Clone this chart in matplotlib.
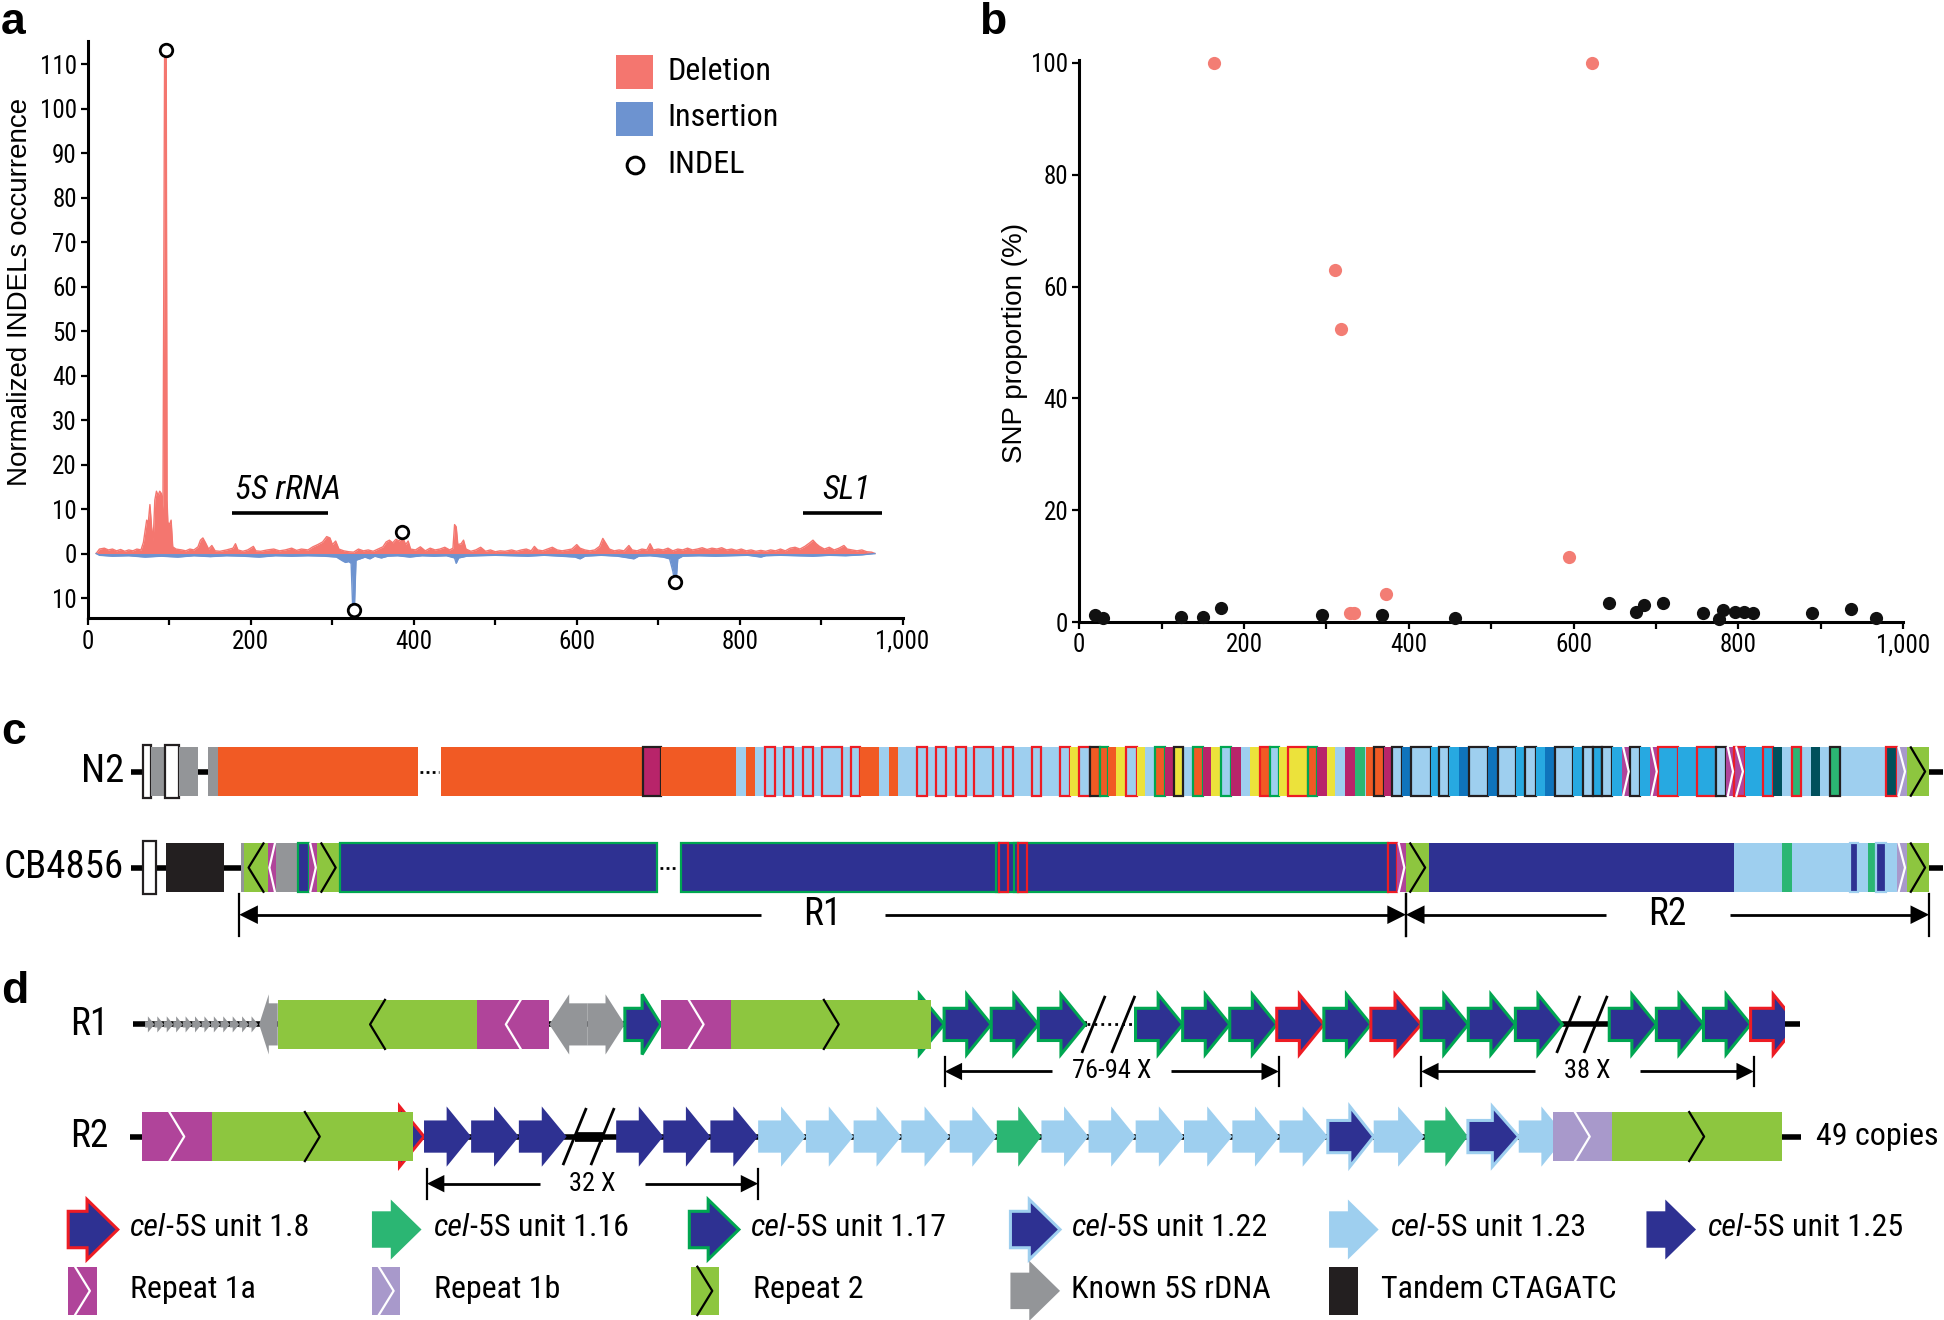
import matplotlib
matplotlib.use('Agg')
import matplotlib.pyplot as plt
from matplotlib import font_manager
from matplotlib.patches import Polygon, Rectangle


def pick_narrow():
    # the reference uses an Arial Narrow look; take a condensed face if one is installed
    names = {f.name for f in font_manager.fontManager.ttflist}
    for n in ('Liberation Sans Narrow', 'Arial Narrow', 'Roboto Condensed', 'Open Sans Condensed',
              'Noto Sans Condensed'):
        if n in names:
            return n, 'normal', 1.0
    for fam in ('Noto Sans', 'Open Sans', 'Roboto'):
        for f in font_manager.fontManager.ttflist:
            if f.name == fam and f.stretch == 'condensed':
                return fam, 'condensed', 1.0
    return 'Liberation Sans', 'normal', 0.86


NARROW, STRETCH, K = pick_narrow()
REGULAR = 'Liberation Sans'
plt.rcParams['font.family'] = NARROW
plt.rcParams['font.stretch'] = STRETCH

# ---------------- panel a: INDEL profile ----------------
del_pos = [10, 14, 20, 25, 30, 35, 40, 45, 50, 55, 60, 65, 68, 70, 72, 74, 76, 78, 80, 82, 84, 86, 88, 90, 92,
           94, 96, 97, 98, 100, 102, 104, 108, 115, 120, 125, 130, 135, 138, 141, 144, 148, 152, 156, 162, 170,
           178, 181, 184, 190, 196, 203, 206, 212, 220, 228, 235, 242, 250, 256, 262, 270, 276, 282, 288, 293,
           297, 300, 304, 308, 314, 320, 326, 332, 338, 344, 350, 356, 362, 366, 370, 374, 378, 382, 386, 390,
           393, 396, 402, 408, 414, 420, 426, 432, 438, 444, 448, 450, 452, 454, 458, 461, 464, 470, 476, 482,
           488, 494, 500, 506, 512, 520, 526, 532, 538, 544, 548, 552, 558, 564, 570, 576, 582, 588, 594, 600,
           604, 610, 616, 622, 628, 632, 636, 640, 646, 652, 658, 664, 668, 674, 680, 686, 690, 694, 700, 706,
           712, 718, 724, 730, 736, 742, 748, 754, 760, 766, 772, 778, 784, 790, 796, 802, 808, 814, 820, 826,
           832, 838, 844, 850, 856, 862, 868, 874, 880, 886, 890, 894, 898, 904, 910, 916, 922, 928, 932, 938,
           944, 950, 956, 962, 966]
del_val = [0, 1.0, 1.2, 0.8, 1.0, 0.6, 0.9, 0.5, 0.8, 0.6, 1.0, 0.8, 2.5, 5, 7.5, 7, 11, 6, 3, 12, 14, 13, 14, 13.5, 10,
           112, 112, 12, 7, 6.5, 7.5, 1.5, 1, 0.8, 0.6, 1, 0.8, 1.5, 3, 3.5, 2.5, 1, 1.8, 0.6, 0.5, 0.8,
           1.2, 2.2, 0.8, 0.5, 0.8, 1.6, 0.6, 0.5, 0.8, 1.0, 0.6, 0.8, 1.2, 0.7, 1.0, 0.8, 1.5, 2.0, 2.6, 3.8,
           3.5, 2.0, 2.8, 1.0, 0.6, 0.4, 0.3, 1.0, 0.6, 0.8, 0.5, 1.0, 1.5, 2.6, 3.0, 2.4, 3.2, 2.8, 3.8, 2.0,
           2.8, 1.0, 0.8, 1.5, 0.6, 1.2, 0.8, 1.0, 1.4, 0.8, 1.2, 6.5, 6, 2, 2.2, 3.0, 1.0, 0.5, 0.8, 1.4,
           0.5, 0.8, 0.4, 0.6, 0.5, 0.8, 0.5, 0.8, 1.0, 0.6, 1.6, 0.8, 0.6, 1.0, 1.4, 0.8, 0.6, 0.8, 1.0, 2.0,
           1.2, 0.8, 0.6, 0.8, 1.6, 3.4, 2.2, 1.0, 0.6, 0.8, 0.6, 1.8, 0.8, 0.6, 1.0, 0.8, 2.2, 0.8, 1.0, 0.8,
           1.2, 0.6, 1.0, 0.8, 1.2, 0.8, 1.0, 1.3, 0.9, 1.2, 1.0, 1.3, 0.8, 1.0, 0.7, 1.0, 0.6, 0.8, 0.5, 0.7,
           0.5, 0.8, 0.6, 1.0, 0.6, 1.2, 1.4, 1.0, 1.6, 2.4, 3.0, 2.2, 1.6, 1.0, 1.4, 0.8, 1.2, 1.8, 1.0, 0.8,
           0.6, 0.8, 0.4, 0.3, 0]
ins_pos = [10, 14, 30, 50, 70, 90, 110, 130, 150, 170, 190, 210, 230, 250, 270, 290, 305, 312, 316, 320, 323,
           325, 327, 329, 334, 340, 346, 352, 360, 368, 380, 395, 410, 425, 440, 450, 452, 455, 465, 480, 500,
           520, 540, 560, 580, 598, 604, 610, 630, 650, 664, 670, 676, 690, 706, 714, 718, 720, 722, 724, 730,
           750, 770, 790, 810, 826, 832, 850, 870, 890, 910, 930, 950, 966]
ins_val = [0, -0.4, -0.6, -0.5, -0.8, -0.6, -0.8, -0.5, -0.7, -0.5, -0.6, -0.8, -0.5, -0.6, -0.5, -0.6, -0.8,
           -1.6, -2.0, -1.8, -2.2, -12.5, -12.5, -1.5, -1.2, -0.8, -1.2, -0.6, -1.0, -0.6, -0.5, -0.8, -0.5,
           -0.6, -0.5, -1.0, -2.2, -1.0, -0.6, -0.5, -0.4, -0.5, -0.6, -0.4, -0.6, -0.8, -1.2, -0.6, -0.4, -0.6,
           -1.0, -1.2, -0.6, -0.5, -0.8, -1.2, -4, -6.2, -6.2, -1.2, -0.6, -0.5, -0.6, -0.5, -0.4, -0.8, -0.5,
           -0.4, -0.5, -0.6, -0.4, -0.5, -0.3, 0]
indel_pos = [96, 327, 385, 721]
indel_val = [113.2, -12.7, 4.8, -6.5]
feature_names = ['5S rRNA', 'SL1']
feature_start = [177, 878]
feature_end = [294, 975]

# ---------------- panel b: SNP proportion ----------------
snp_hi_pos = [163, 622, 310, 318, 594, 372, 329, 334]
snp_hi_val = [100, 100, 63, 52.4, 11.6, 5.1, 1.7, 1.7]
snp_lo_pos = [19, 29, 124, 150, 172, 295, 368, 456, 643, 676, 685, 709, 757, 777, 782, 796, 807, 818, 890, 937, 967]
snp_lo_val = [1.2, 0.7, 1.0, 1.0, 2.6, 1.2, 1.35, 0.7, 3.5, 1.9, 3.0, 3.5, 1.6, 0.5, 2.1, 1.8, 1.8, 1.7, 1.6, 2.3, 0.8]

# ---------------- panel c: locus maps (start, end, element, outline) ----------------
n2_units = [
    (115, 122, 'wh', 'k'), (122, 133, 'gy', ''), (133, 144, 'wh', 'k'), (144, 160, 'gy', ''), (168, 175.5, 'gy', ''),
    (175.5, 337, 'or', ''), (356, 519, 'or', ''), (519, 533, 'cr', 'k'), (533, 594, 'or', ''),
    (594, 1530, 'lb', ''),
    (602, 609, 'or', ''), (617, 625, 'lb', 'r'), (632, 640, 'lb', 'r'), (648, 656, 'lb', 'r'), (663, 679, 'lb', 'r'),
    (686, 694, 'lb', 'r'), (694, 709, 'or', ''), (717, 724, 'or', ''),
    (740, 748, 'lb', 'r'), (755, 763, 'lb', 'r'), (771, 779, 'lb', 'r'), (786, 801, 'lb', 'r'), (809, 817, 'lb', 'r'),
    (832, 840, 'lb', 'r'), (855, 863, 'lb', 'r'), (863, 870.5, 'ye', ''), (870.5, 879, 'lb', 'r'),
    (879, 887, 'or', 'k'), (887, 894, 'or', 'g'), (894, 900, 'or', ''), (900, 908.6, 'ye', ''),
    (908.6, 916.7, 'lb', 'r'), (916.7, 923.4, 'ye', ''), (931.5, 939.5, 'or', 'g'), (939.5, 946.8, 'cr', ''),
    (946.8, 954.3, 'ye', 'k'), (962, 970, 'or', 'g'), (970, 977, 'cr', ''), (977, 985, 'ye', ''),
    (985, 993, 'lb', 'g'), (993, 1001, 'cr', ''), (1008, 1016, 'ye', ''), (1016, 1024, 'or', 'r'),
    (1024, 1032, 'lb', 'g'), (1032, 1039, 'ye', ''), (1039, 1055, 'ye', 'r'), (1055, 1062, 'or', 'g'),
    (1062, 1070, 'cr', ''), (1070, 1077, 'ye', ''), (1085, 1093, 'cr', ''), (1093, 1101, 'gn', ''),
    (1102, 1108, 'or', ''), (1108, 1116, 'or', 'k'), (1116, 1123, 'cr', ''),
    (1123, 1131, 'lb', 'k'), (1131, 1138, 'mb', ''), (1138, 1154.5, 'lb', 'k'), (1154.5, 1161, 'cy', ''),
    (1161, 1169, 'lb', 'k'), (1169, 1177, 'cy', ''), (1177, 1185, 'mb', ''), (1185, 1200, 'lb', 'k'),
    (1200, 1208, 'mb', ''), (1208, 1223, 'lb', 'k'), (1223, 1230, 'cy', ''), (1230, 1239, 'lb', 'k'),
    (1239, 1246, 'cy', ''), (1246, 1254, 'mb', ''), (1254, 1269, 'lb', 'k'), (1269, 1277, 'cy', ''),
    (1277, 1285, 'lb', 'k'), (1285, 1292, 'cy', 'k'), (1292, 1300, 'lb', 'k'), (1300, 1308, 'cy', ''),
    (1308, 1315, 'r1a', ''), (1315, 1323, 'lb', 'k'), (1323, 1331, 'cy', ''), (1331, 1337.5, 'r1a', ''),
    (1337.5, 1353.5, 'cy', 'r'), (1353.5, 1369, 'cy', ''), (1369, 1384.5, 'cy', 'r'), (1384.5, 1392.5, 'lb', 'k'),
    (1392.5, 1399, 'r1a', ''), (1399, 1407.3, 'r1a', 'r'), (1407.3, 1422, 'cy', ''), (1422, 1430, 'cy', 'r'),
    (1430, 1437.7, 'tl', ''), (1445.5, 1453, 'gn', 'r'), (1461, 1468.3, 'tl', ''), (1476, 1484, 'gn', 'k'),
    (1521.5, 1530, 'tl', 'r'), (1530, 1538, 'r1b', ''), (1538, 1556, 'r2', ''),
]
cb_units = [
    (115, 126, 'wh', 'k'), (134, 181, 'tc', ''), (194, 197, 'gy', ''), (197, 216, 'r2<', ''), (216, 223, 'r1a<', ''),
    (223, 240, 'gy', ''), (240, 249, 'db', 'g'), (249, 256, 'r1a', ''), (256, 274, 'r2', ''),
    (274, 530, 'db', 'g'), (549, 1119.6, 'db', 'g'),
    (803, 806, 'db', 'g'), (806, 813, 'db', 'r'), (818, 821, 'db', 'g'), (821, 828.5, 'db', 'r'),
    (1119.6, 1127, 'db', 'r'), (1127, 1134, 'r1a', ''), (1134, 1153, 'r2', ''), (1153, 1399, 'db', ''),
    (1399, 1530, 'lb', ''), (1437.7, 1445.5, 'gn', ''), (1492, 1499, 'db', 'l'), (1507, 1513, 'gn', ''),
    (1513.5, 1521.5, 'db', 'l'), (1530, 1538, 'r1b', ''), (1538, 1556, 'r2', ''),
]
n2_gap = (337, 356)
cb_gap = (530, 549)
c_spans = [(193, 1134, 'R1'), (1134, 1556, 'R2')]

# ---------------- panel d: repeat structure ----------------
r1_tandem = [117, 124.6, 132.2, 139.8, 147.4, 155, 162.6, 170.2, 177.8, 185.4, 193, 200.6]
r1_boxes = [(224, 385, 'r2<'), (385, 443, 'r1a<'), (533, 590, 'r1a'), (590, 751, 'r2')]
r1_arrows = [
    (224, 209, 'gy', ''), (474, 443, 'gy', ''), (474, 504, 'gy', ''), (504, 533, 'db', 'g'),
    (723, 761.5, 'db', 'g'), (761.5, 799.5, 'db', 'g'), (799.5, 837.5, 'db', 'g'), (837.5, 875.5, 'db', 'g'),
    (915.9, 953.9, 'db', 'g'), (953.9, 991.9, 'db', 'g'), (991.9, 1029.8, 'db', 'g'), (1029.8, 1067.8, 'db', 'r'),
    (1067.8, 1105.7, 'db', 'g'), (1105.7, 1146.3, 'db', 'r'), (1146.3, 1184.3, 'db', 'g'), (1184.3, 1222.3, 'db', 'g'),
    (1222.3, 1260.2, 'db', 'g'), (1298, 1336, 'db', 'g'), (1336, 1374, 'db', 'g'), (1374, 1412, 'db', 'g'),
    (1412, 1450, 'db', 'r'),
]
r1_end = 1440
r1_breaks = [(882, 906, 'dotted'), (1265, 1287, 'solid')]
r2_boxes = [(114.4, 170.8, 'r1a'), (170.8, 333, 'r2'), (1252.5, 1300, 'r1b'), (1300, 1437, 'r2')]
r2_arrows = [
    (304, 342, 'db', 'r'), (342, 380, 'db', ''), (380, 418.5, 'db', ''), (418.5, 457, 'db', ''),
    (497, 535, 'db', ''), (535, 573, 'db', ''), (573, 611.5, 'db', ''),
    (611.5, 650, 'lb', ''), (650, 688.5, 'lb', ''), (688.5, 727, 'lb', ''), (727, 766, 'lb', ''), (766, 804, 'lb', ''),
    (804, 840, 'gn', ''), (840, 878, 'lb', ''), (878, 916, 'lb', ''), (916, 955, 'lb', ''), (955, 994, 'lb', ''),
    (994, 1032, 'lb', ''), (1032, 1071, 'lb', ''), (1071, 1108, 'db', 'l'), (1108, 1149, 'lb', ''),
    (1149, 1184, 'gn', ''), (1184, 1225, 'db', 'l'), (1225, 1263, 'lb', ''),
]
r2_breaks = [(463.5, 486, 'thick')]
d_spans = [(762, 1031.5, 826.5, '76-94 X'), (1146.3, 1414.6, 826.5, '38 X'), (344.4, 611.5, 917, '32 X')]
copies_label = '49 copies'

legend_arrow_kinds = [('db', 'r'), ('gn', ''), ('db', 'g'), ('db', 'l'), ('lb', ''), ('db', '')]
legend_arrow_names = ['1.8', '1.16', '1.17', '1.22', '1.23', '1.25']
legend_box_kinds = ['r1a', 'r1b', 'r2', 'gy', 'tc']
legend_box_names = ['Repeat 1a', 'Repeat 1b', 'Repeat 2', 'Known 5S rDNA', 'Tandem CTAGATC']

FILL = {'wh': 'white', 'gy': '#939598', 'or': '#f15a24', 'cr': '#b8246a', 'lb': '#9ecfef', 'ye': '#ece23b',
        'gn': '#2bb673', 'cy': '#27a9e1', 'mb': '#0f74bc', 'tl': '#00505c', 'db': '#2e3192',
        'r1a': '#b0449a', 'r1b': '#a899cb', 'r2': '#8dc63f', 'tc': '#231f20'}
EDGE = {'r': '#ed1c24', 'g': '#00a651', 'k': '#231f20', 'l': '#9ecfef'}
DEL_C = '#f4766f'
INS_C = '#6d93d0'
SNP_HI_C = '#f37d74'


def draw_box(ax, x0, x1, yc, h, kind, edge=''):
    back = kind.endswith('<')
    base = kind.rstrip('<')
    if base == 'wh':
        h = h + 2
    ax.add_patch(Rectangle((x0, yc - h), x1 - x0, 2 * h, fc=FILL[base],
                           ec=EDGE[edge] if edge else 'none', lw=1.6, zorder=3))
    if base in ('r1a', 'r1b', 'r2'):
        xc = (x0 + x1) / 2
        d = min(6.0, (x1 - x0) * 0.32)
        s = -1 if back else 1
        ax.plot([xc - s * d, xc + s * d, xc - s * d], [yc - h, yc, yc + h],
                color='black' if base == 'r2' else 'white', lw=1.6, zorder=4)


def draw_arrow(ax, x0, x1, yc, hb, hh, kind, edge='', frac=0.48, clip=None):
    xh = x0 + (x1 - x0) * frac
    pts = [(x0, yc - hb), (xh, yc - hb), (xh, yc - hh), (x1, yc), (xh, yc + hh), (xh, yc + hb), (x0, yc + hb)]
    p = Polygon(pts, closed=True, fc=FILL[kind], ec=EDGE[edge] if edge else 'none',
                lw=2.2, joinstyle='miter', zorder=3)
    ax.add_patch(p)
    if clip is not None:
        p.set_clip_path(clip)


def bracket(ax, x0, x1, y, label, half_gap, tick, head, fs):
    xm = (x0 + x1) / 2
    ax.plot([x0 + head * 0.8, xm - half_gap], [y, y], color='black', lw=2, solid_capstyle='butt')
    ax.plot([xm + half_gap, x1 - head * 0.8], [y, y], color='black', lw=2, solid_capstyle='butt')
    for tip, s in ((x0, 1), (x1, -1)):
        ax.add_patch(Polygon([(tip, y), (tip + s * head, y - head * 0.5), (tip + s * head, y + head * 0.5)],
                             closed=True, fc='black', ec='none'))
        ax.plot([tip, tip], [y - tick, y + tick], color='black', lw=1.6)
    ax.text(xm, y, label, ha='center', va='center', fontsize=fs * K)


fig = plt.figure(figsize=(19.44, 13.2), dpi=100)
W, H = 1568.0, 1065.0

# ---- panel a ----
ax_a = fig.add_axes([71 / W, 1 - 499 / H, 657 / W, 466 / H])
ax_a.fill_between(del_pos, 0, del_val, color=DEL_C, lw=0)
ax_a.plot(del_pos, del_val, color=DEL_C, lw=1)
ax_a.fill_between(ins_pos, 0, ins_val, color=INS_C, lw=0)
ax_a.plot(ins_pos, ins_val, color=INS_C, lw=1)
ax_a.plot(indel_pos, indel_val, 'o', mfc='white', mec='black', ms=9, mew=2, clip_on=False, zorder=5)
for name, x0, x1 in zip(feature_names, feature_start, feature_end):
    ax_a.plot([x0, x1], [9.05, 9.05], color='black', lw=2.6, solid_capstyle='butt')
    if name == 'SL1':
        ax_a.text((x0 + x1) / 2 + 5, 10.6, name, style='italic', fontsize=24 * K, ha='center', va='bottom')
    else:
        ax_a.text(x0 + 3, 10.6, name, style='italic', fontsize=24 * K, ha='left', va='bottom')
ax_a.set_xlim(0, 1000)
ax_a.set_ylim(-14.6, 115.2)
ax_a.set_yticks(range(-10, 111, 10))
ax_a.set_yticklabels([str(abs(v)) for v in range(-10, 111, 10)])
ax_a.set_ylabel('Normalized INDELs occurrence', family=REGULAR, stretch='normal', fontsize=20)
ax_a.yaxis.set_label_coords(-0.068, 0.566)

# ---- panel b ----
ax_b = fig.add_axes([870.5 / W, 1 - 502 / H, 664.5 / W, 453.5 / H])
ax_b.plot(snp_lo_pos, snp_lo_val, 'o', color='#111111', ms=9.5, mew=0, clip_on=False, zorder=4)
ax_b.plot(snp_hi_pos, snp_hi_val, 'o', color=SNP_HI_C, ms=9.5, mew=0, clip_on=False, zorder=4)
ax_b.set_xlim(0, 1000)
ax_b.set_ylim(0, 100.5)
ax_b.set_yticks(range(0, 101, 20))
ax_b.set_ylabel('SNP proportion (%)', family=REGULAR, stretch='normal', fontsize=20)
ax_b.yaxis.set_label_coords(-0.062, 0.496)

for ax in (ax_a, ax_b):
    for side in ('top', 'right'):
        ax.spines[side].set_visible(False)
    for side in ('left', 'bottom'):
        ax.spines[side].set_linewidth(2.2)
    ax.set_xticks(range(0, 1001, 200))
    ax.set_xticklabels(['0', '200', '400', '600', '800', '1,000'])
    ax.set_xticks(range(100, 1000, 200), minor=True)
    ax.tick_params(which='both', direction='out', length=5, width=1.6, labelsize=18 * K, pad=3)

# ---- overlay for legends and maps ----
ov = fig.add_axes([0, 0, 1, 1])
ov.set_xlim(0, W)
ov.set_ylim(H, 0)
ov.axis('off')

for letter, x, y in (('a', 1, 18), ('b', 790, 18), ('c', 1, 591), ('d', 1, 800)):
    ov.text(x, y, letter, family=REGULAR, stretch='normal', fontsize=32, weight='bold', ha='left', va='center')

# legend of panel a
ov.add_patch(Rectangle((497, 44), 30, 28, fc=DEL_C, ec='none'))
ov.add_patch(Rectangle((497, 82), 30, 28, fc=INS_C, ec='none'))
ov.plot([512], [133], 'o', mfc='white', mec='black', ms=12, mew=2.2)
for txt, y in (('Deletion', 58), ('Insertion', 95), ('INDEL', 133)):
    ov.text(538, y, txt, fontsize=23 * K, ha='left', va='center')

# panel c
for yc, units, gap, name in ((622.5, n2_units, n2_gap, 'N2'), (700, cb_units, cb_gap, 'CB4856')):
    ov.plot([106, gap[0]], [yc, yc], color='black', lw=4, solid_capstyle='butt', zorder=1)
    ov.plot([gap[1], 1567], [yc, yc], color='black', lw=4, solid_capstyle='butt', zorder=1)
    ov.plot([gap[0] + 2, gap[1] - 2], [yc, yc], color='black', lw=2, ls=(0, (1, 1.2)), zorder=1)
    for x0, x1, kind, edge in units:
        draw_box(ov, x0, x1, yc, 19.5, kind, edge)
    ov.text(100, yc, name, fontsize=28 * K, ha='right', va='center')
for x0, x1, label in c_spans:
    bracket(ov, x0, x1, 738, label, 50, 17, 15, 27)

# panel d
r1_y, r2_y = 826.5, 917
hb, hh = 13.0, 24.3
ov.plot([107, 877], [r1_y, r1_y], color='black', lw=4, solid_capstyle='butt', zorder=1)
ov.plot([877, 915], [r1_y, r1_y], color='black', lw=2, ls=(0, (1, 1.5)), zorder=1)
ov.plot([915, 1452], [r1_y, r1_y], color='black', lw=4, solid_capstyle='butt', zorder=1)
ov.plot([105, 1453], [r2_y, r2_y], color='black', lw=4, solid_capstyle='butt', zorder=1)
for x0 in r1_tandem:
    draw_arrow(ov, x0, x0 + 7.6, r1_y, 2.5, 6.5, 'gy', frac=0.3)
clip = Rectangle((0, 0), r1_end, H, transform=ov.transData)
for x0, x1, kind, edge in r1_arrows:
    draw_arrow(ov, x0, x1, r1_y, hb if kind != 'gy' else 17, hh, kind, edge, clip=clip)
for x0, x1, kind in r1_boxes:
    draw_box(ov, x0, x1, r1_y, 19.8, kind)
for x0, x1, kind, edge in r2_arrows:
    draw_arrow(ov, x0, x1, r2_y, hb, hh, kind, edge)
for x0, x1, kind in r2_boxes:
    draw_box(ov, x0, x1, r2_y, 19.8, kind)
for yc, breaks in ((r1_y, r1_breaks), (r2_y, r2_breaks)):
    for xa, xb, style in breaks:
        if style == 'thick':
            ov.plot([xa, xb], [yc, yc], color='black', lw=7, solid_capstyle='butt', zorder=2)
        for xs in (xa, xb):
            ov.plot([xs - 9, xs + 9], [yc + 22, yc - 22], color='black', lw=2, zorder=5)
for x0, x1, yrow, label in d_spans:
    bracket(ov, x0, x1, yrow + 38, label, 42 if len(label) < 6 else 48, 12, 14, 19)
ov.text(72, r1_y, 'R1', fontsize=27 * K, ha='center', va='center')
ov.text(72, r2_y, 'R2', fontsize=27 * K, ha='center', va='center')
ov.text(1465, r2_y, copies_label, fontsize=23 * K, ha='left', va='center')

# legend of panel d
row1_x = [55, 300, 556, 815, 1072, 1328]
for x0, (kind, edge), num in zip(row1_x, legend_arrow_kinds, legend_arrow_names):
    draw_arrow(ov, x0, x0 + 40, 992, 14.7, 24.2, kind, edge, frac=0.38)
    t = ov.text(x0 + 50, 990.6, 'cel', style='italic', fontsize=23 * K, ha='left', va='center')
    ov.annotate('-5S unit ' + num, xy=(1, 0), xycoords=t, ha='left', va='bottom', fontsize=23 * K)
row2_x = [55, 300, 557, 815, 1072]
row2_tx = [105, 350, 607, 864, 1114]
for x0, tx, kind, name in zip(row2_x, row2_tx, legend_box_kinds, legend_box_names):
    if kind == 'gy':
        draw_arrow(ov, x0, x0 + 40, 1041.5, 14.7, 24.2, kind, frac=0.38)
    else:
        draw_box(ov, x0, x0 + 23, 1041.5, 19.5, kind)
    ov.text(tx, 1040, name, fontsize=23 * K, ha='left', va='center')

fig.savefig('out.png', dpi=100)
